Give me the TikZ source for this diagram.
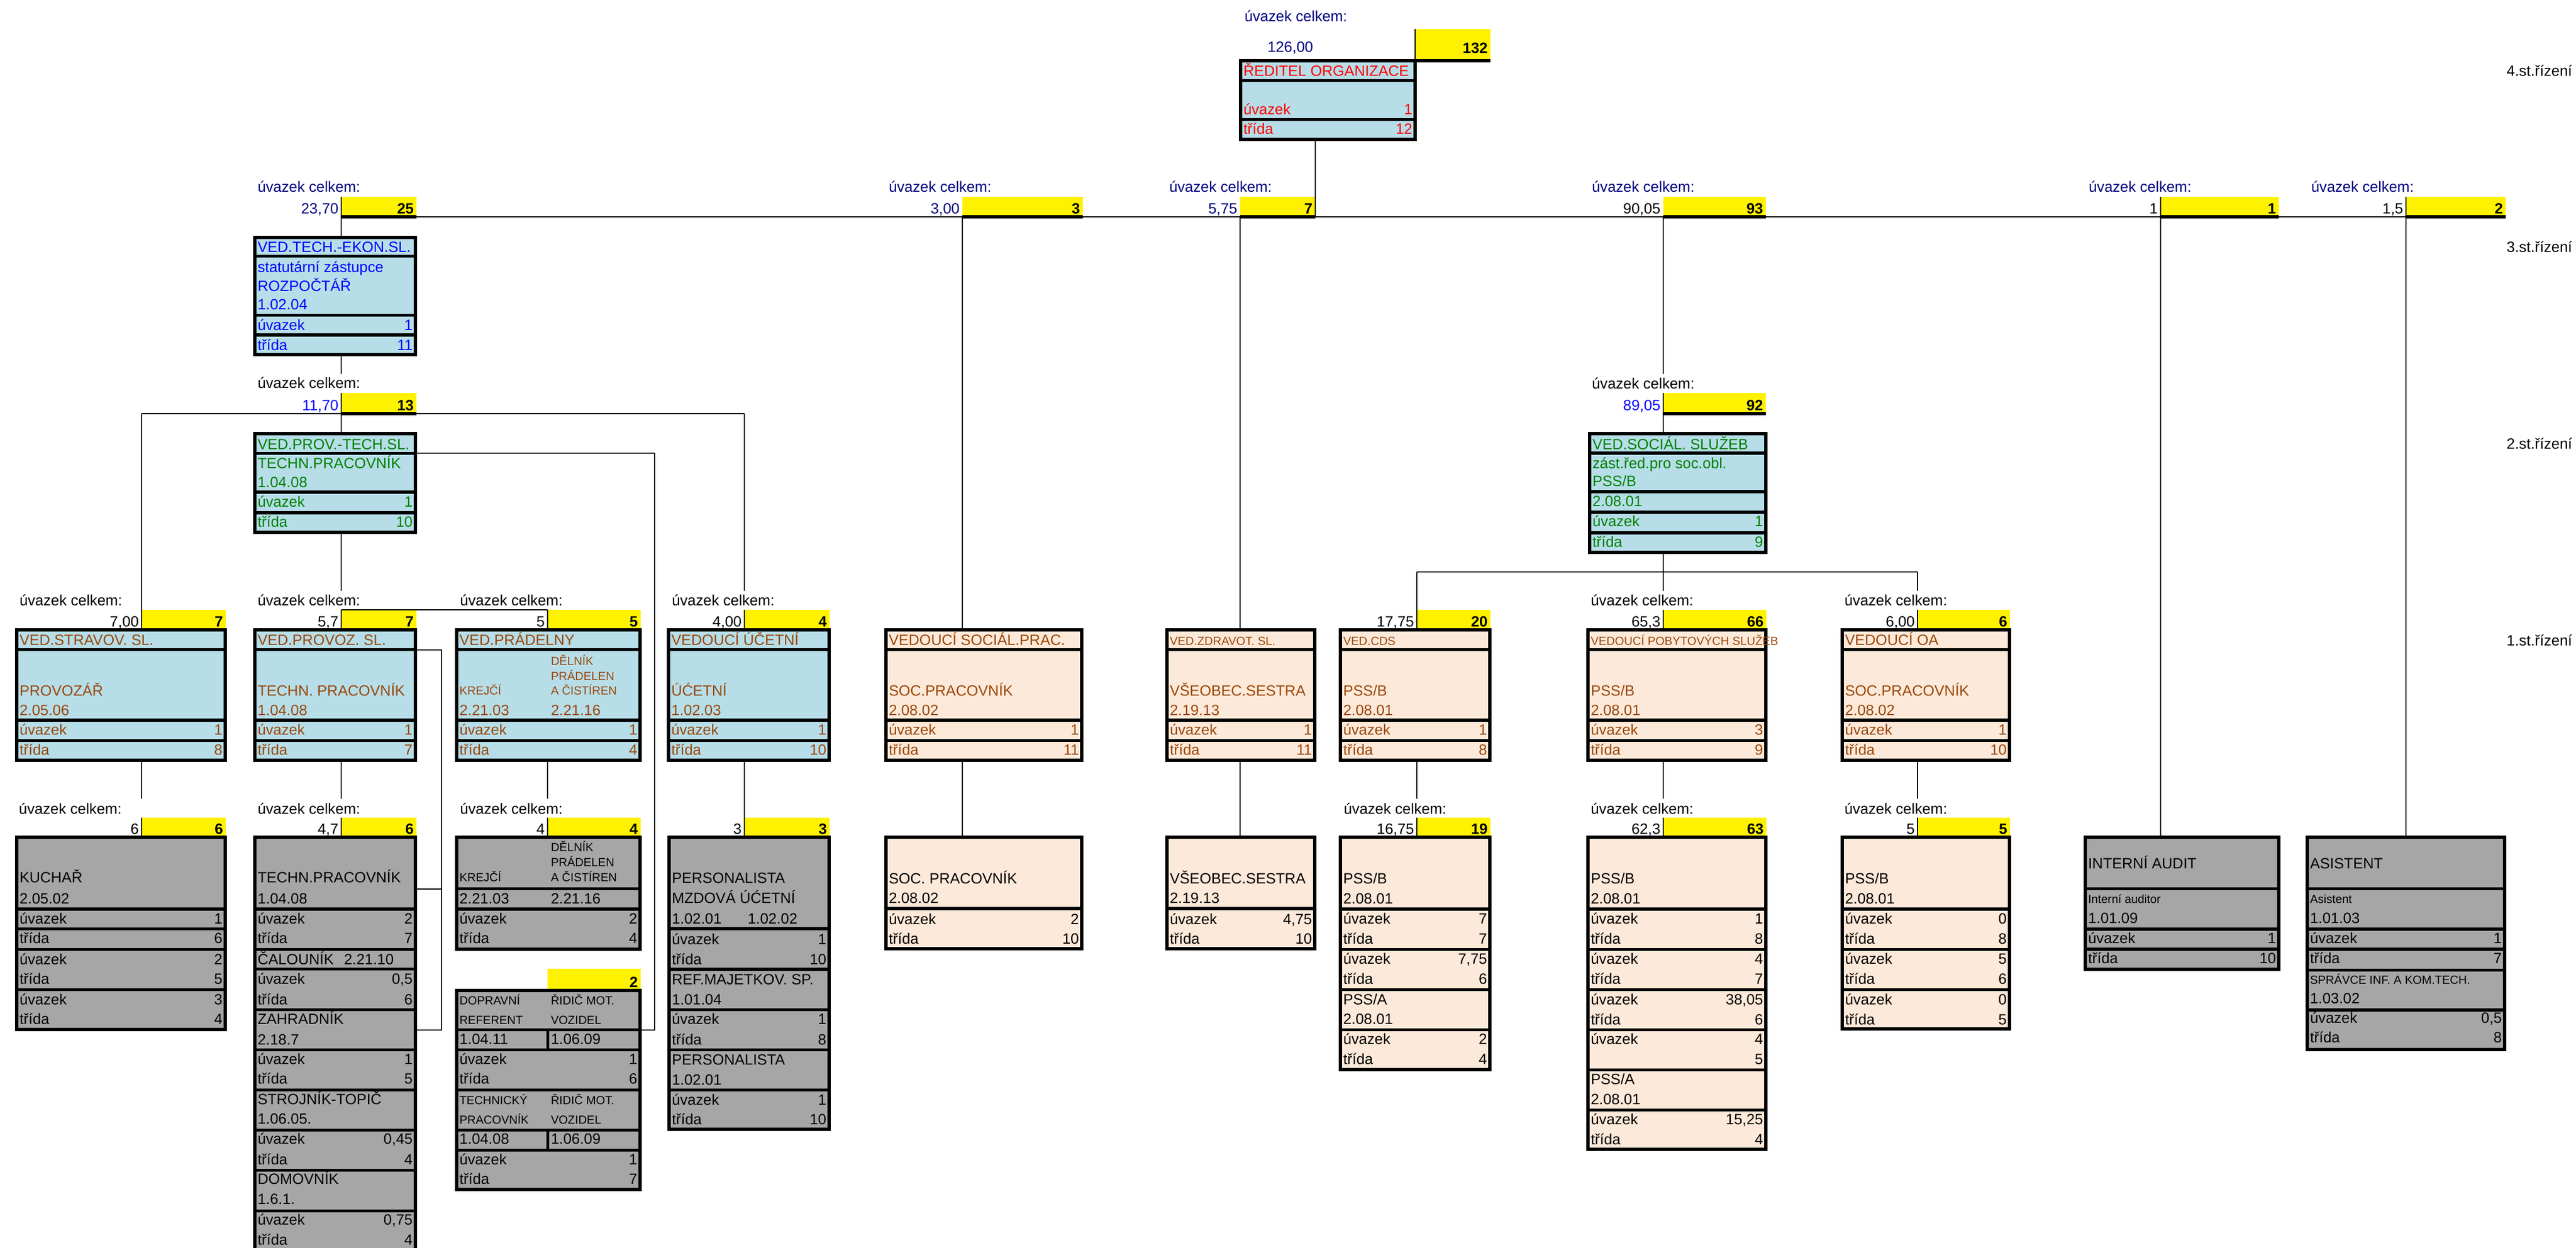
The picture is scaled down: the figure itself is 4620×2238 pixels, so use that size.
\documentclass[tikz,border=0pt]{standalone}
\usepackage{fontspec}
\setmainfont{Liberation Sans}

\definecolor{navy}{RGB}{0,0,128}
\definecolor{boxblue}{RGB}{183,222,232}
\definecolor{peach}{RGB}{253,233,217}
\definecolor{greybox}{RGB}{166,166,166}
\definecolor{txtblue}{RGB}{0,0,255}
\definecolor{txtgreen}{RGB}{0,128,0}
\definecolor{txtbrown}{RGB}{153,72,10}
\definecolor{txtred}{RGB}{255,0,0}

\newcommand{\fnorm}{\fontsize{7.6}{9}\selectfont}
\newcommand{\fsmall}{\fontsize{6}{7}\selectfont}

\newcounter{cellno}

\tikzset{
  every node/.style={inner sep=0pt, outer sep=0pt, font=\fnorm},
  frame/.style={draw, line width=1.5pt},
  sepline/.style={line width=1.5pt},
  conn/.style={line width=0.7pt},
  yel/.style={fill=yellow},
  tc/.style={every node/.append style={text=#1}},
}

% box: name, x1, y1, x2, y2, fill
\newcommand{\OrgBox}[6]{\node[frame, fill=#6, anchor=north west, minimum width={(#4-#2)*0.01cm}, minimum height={(#5-#3)*0.01cm}] (#1) at (#2,#3) {};}
% yellow count cell: [offset] name, x1, y1, x2, y2, number
\newcommand{\YelN}[7][6]{\node[yel, anchor=north west, minimum width={(#5-#3)*0.01cm}, minimum height={(#6-#4)*0.01cm}] (#2) at (#3,#4) {};
  \stepcounter{cellno}\path (#2.south east) ++(-5,-#1) node[anchor=base east, text=black, font=\fnorm\bfseries] (c\arabic{cellno}) {#7};
  \draw[sepline] (#2.south west) -- (#2.south east);}
\newcommand{\Yel}[7][6]{\YelN[#1]{#2}{#3}{#4}{#5}{#6}{#7}\draw[conn] (#2.north west) -- (#2.south west);}
\newcommand{\Val}[3][black]{\stepcounter{cellno}\path (#2.south west) ++(-5,-6) node[anchor=base east, text=#1] (c\arabic{cellno}) {#3};}
\newcommand{\Lab}[3][black]{\stepcounter{cellno}\node[anchor=base west, text=#1] (c\arabic{cellno}) at (#2,#3) {úvazek celkem:};}
% rows inside a box
\newcommand{\Lt}[3]{\stepcounter{cellno}\path (#1.west |- 0,#2) ++(5,0) node[anchor=base west] (c\arabic{cellno}) {#3};}
\newcommand{\Rt}[3]{\stepcounter{cellno}\path (#1.east |- 0,#2) ++(-5,0) node[anchor=base east] (c\arabic{cellno}) {#3};}
\newcommand{\Row}[4]{\Lt{#1}{#2}{#3}\Rt{#1}{#2}{#4}}
\newcommand{\At}[3]{\stepcounter{cellno}\node[anchor=base west] (c\arabic{cellno}) at (#1,#2) {#3};}
\newcommand{\Sep}[2]{\draw[sepline] (#1.west |- 0,#2) -- (#1.east |- 0,#2);}
\newcommand{\LevOne}[6]{\Lt{#1}{1157}{#2}\Sep{#1}{1165.5}\Lt{#1}{1248}{#3}\Lt{#1}{1283}{#4}\Sep{#1}{1292}\Row{#1}{1318}{úvazek}{#5}\Sep{#1}{1328.5}\Row{#1}{1354}{třída}{#6}}

\begin{document}
\begin{tikzpicture}[x=0.01cm, y=-0.01cm]

\useasboundingbox (0,0) rectangle (4620,2238);
\fill[white] (0,0) rectangle (4620,2238);
\clip (0,0) rectangle (4620,2238);

% levels
\node[anchor=base east] (lev4) at (4613,136) {4.st.řízení};
\node[anchor=base east] (lev3) at (4613,452) {3.st.řízení};
\node[anchor=base east] (lev2) at (4613,805) {2.st.řízení};
\node[anchor=base east] (lev1) at (4613,1158) {1.st.řízení};

% director
\Lab[navy]{2232}{38}
\node[anchor=base east, text=navy] (dirval) at (2355,93) {126,00};
\Yel[14]{ydir}{2538}{52}{2673}{109}{132}
\OrgBox{dir}{2225}{109}{2538}{250}{boxblue}
\begin{scope}[tc=txtred]
\Lt{dir}{136}{ŘEDITEL ORGANIZACE}
\Sep{dir}{144.5}
\Row{dir}{205}{úvazek}{1}
\Sep{dir}{214.5}
\Row{dir}{240}{třída}{12}
\end{scope}

% 3.st headers
\Yel{ytech}{612}{353}{747}{389}{25}
\YelN{ysocprac}{1726}{353}{1942}{389}{3}
\YelN{yzdrav}{2224}{353}{2359}{389}{7}
\YelN{ysoc}{2983}{353}{3167}{389}{93}
\Yel{yaudit}{3875}{353}{4087}{389}{1}
\Yel{yasist}{4315}{353}{4494}{389}{2}
\Lab[navy]{462}{344}
\Lab[navy]{1594}{344}
\Lab[navy]{2097}{344}
\Lab[navy]{2855}{344}
\Lab[navy]{3746}{344}
\Lab[navy]{4145}{344}
\Val[navy]{ytech}{23,70}
\Val[navy]{ysocprac}{3,00}
\Val[navy]{yzdrav}{5,75}
\Val{ysoc}{90,05}
\Val{yaudit}{1}
\Val{yasist}{1,5}

% technical-economic branch
\OrgBox{tech}{457}{426}{745}{636}{boxblue}
\begin{scope}[tc=txtblue]
\Lt{tech}{452}{VED.TECH.-EKON.SL.}
\Sep{tech}{459.5}
\Lt{tech}{488}{statutární zástupce}
\Lt{tech}{522}{ROZPOČTÁŘ}
\Lt{tech}{555}{1.02.04}
\Sep{tech}{565.5}
\Row{tech}{592}{úvazek}{1}
\Sep{tech}{601}
\Row{tech}{628}{třída}{11}
\end{scope}
\Lab{462}{696}
\Yel{ytech2}{612}{705}{747}{742}{13}
\Val[txtblue]{ytech2}{11,70}

\OrgBox{prov}{457}{778}{745}{955}{boxblue}
\begin{scope}[tc=txtgreen]
\Lt{prov}{806}{VED.PROV.-TECH.SL.}
\Sep{prov}{813.5}
\Lt{prov}{840}{TECHN.PRACOVNÍK}
\Lt{prov}{874}{1.04.08}
\Sep{prov}{883}
\Row{prov}{909}{úvazek}{1}
\Sep{prov}{920}
\Row{prov}{945}{třída}{10}
\end{scope}

% social branch
\Lab{2855}{697}
\Yel{ysoc2}{2983}{705}{3167}{742}{92}
\Val[txtblue]{ysoc2}{89,05}
\OrgBox{soc}{2851}{778}{3167}{991}{boxblue}
\begin{scope}[tc=txtgreen]
\Lt{soc}{806}{VED.SOCIÁL. SLUŽEB}
\Sep{soc}{813}
\Lt{soc}{840}{zást.řed.pro soc.obl.}
\Lt{soc}{872}{PSS/B}
\Sep{soc}{882}
\Lt{soc}{908}{2.08.01}
\Sep{soc}{919}
\Row{soc}{944}{úvazek}{1}
\Sep{soc}{956}
\Row{soc}{981}{třída}{9}
\end{scope}

% 1.st headers
\Yel{ystrav}{254}{1094}{405}{1130}{7}
\Yel{yprovoz}{612}{1094}{747}{1130}{7}
\Yel{yprad}{982}{1094}{1149}{1130}{5}
\Yel{yucet}{1335}{1094}{1488}{1130}{4}
\Yel{ycds}{2541}{1094}{2673}{1130}{20}
\Yel{ypobyt}{2983}{1094}{3168}{1130}{66}
\Yel{yoa}{3439}{1094}{3605}{1130}{6}
\Lab{35}{1086}
\Lab{462}{1086}
\Lab{825}{1086}
\Lab{1205}{1086}
\Lab{2853}{1086}
\Lab{3308}{1086}
\Val{ystrav}{7,00}
\Val{yprovoz}{5,7}
\Val{yprad}{5}
\Val{yucet}{4,00}
\Val{ycds}{17,75}
\Val{ypobyt}{65,3}
\Val{yoa}{6,00}

% 1.st boxes
\OrgBox{strav}{30}{1130}{404}{1364}{boxblue}
\OrgBox{provoz}{457}{1130}{745}{1364}{boxblue}
\OrgBox{prad}{819}{1130}{1148}{1364}{boxblue}
\OrgBox{ucet}{1199}{1130}{1487}{1364}{boxblue}
\OrgBox{socprac}{1589}{1130}{1940}{1364}{peach}
\OrgBox{zdrav}{2093}{1130}{2358}{1364}{peach}
\OrgBox{cds}{2404}{1130}{2672}{1364}{peach}
\OrgBox{pobyt}{2848}{1130}{3167}{1364}{peach}
\OrgBox{oa}{3304}{1130}{3604}{1364}{peach}
\begin{scope}[tc=txtbrown]
\LevOne{strav}{VED.STRAVOV. SL.}{PROVOZÁŘ}{2.05.06}{1}{8}
\LevOne{provoz}{VED.PROVOZ. SL.}{TECHN. PRACOVNÍK}{1.04.08}{1}{7}
\LevOne{prad}{VED.PRÁDELNY}{}{}{1}{4}
\At{824}{1246}{\fsmall KREJČÍ}
\At{824}{1283}{2.21.03}
\At{988}{1193}{\fsmall DĚLNÍK}
\At{988}{1220}{\fsmall PRÁDELEN}
\At{988}{1246}{\fsmall A ČISTÍREN}
\At{988}{1283}{2.21.16}
\LevOne{ucet}{VEDOUCÍ ÚČETNÍ}{ÚĆETNÍ}{1.02.03}{1}{10}
\LevOne{socprac}{VEDOUCÍ SOCIÁL.PRAC.}{SOC.PRACOVNÍK}{2.08.02}{1}{11}
\LevOne{zdrav}{\fsmall VED.ZDRAVOT. SL.}{VŠEOBEC.SESTRA}{2.19.13}{1}{11}
\LevOne{cds}{\fsmall VED.CDS}{PSS/B}{2.08.01}{1}{8}
\LevOne{pobyt}{\fsmall VEDOUCÍ POBYTOVÝCH SLUŽEB}{PSS/B}{2.08.01}{3}{9}
\LevOne{oa}{VEDOUCÍ OA}{SOC.PRACOVNÍK}{2.08.02}{1}{10}
\end{scope}

% lower headers
\Yel{ykuch}{254}{1467}{405}{1502}{6}
\Yel{ytechn}{612}{1467}{747}{1502}{6}
\Yel{yprad2}{982}{1467}{1149}{1502}{4}
\YelN{ydopr}{982}{1738}{1149}{1777}{2}
\Yel{ypers}{1335}{1467}{1488}{1502}{3}
\Yel{ycds2}{2541}{1467}{2673}{1502}{19}
\Yel{ypobyt2}{2983}{1467}{3168}{1502}{63}
\Yel{yoa2}{3439}{1467}{3605}{1502}{5}
\Lab{34}{1460}
\Lab{462}{1460}
\Lab{825}{1460}
\Lab{2410}{1460}
\Lab{2853}{1460}
\Lab{3308}{1460}
\Val{ykuch}{6}
\Val{ytechn}{4,7}
\Val{yprad2}{4}
\Val{ypers}{3}
\Val{ycds2}{16,75}
\Val{ypobyt2}{62,3}
\Val{yoa2}{5}

% lower boxes
\OrgBox{kuch}{30}{1502}{404}{1847}{greybox}
\OrgBox{techn}{457}{1502}{745}{2270}{greybox}
\OrgBox{prad2}{819}{1502}{1148}{1703}{greybox}
\OrgBox{dopr}{819}{1777}{1148}{2134}{greybox}
\OrgBox{pers}{1200}{1502}{1487}{2026}{greybox}
\OrgBox{socprac2}{1589}{1502}{1940}{1702}{peach}
\OrgBox{zdrav2}{2093}{1502}{2358}{1702}{peach}
\OrgBox{cds2}{2404}{1502}{2672}{1919}{peach}
\OrgBox{pobyt2}{2848}{1502}{3167}{2062}{peach}
\OrgBox{oa2}{3304}{1502}{3604}{1846}{peach}
\OrgBox{audit}{3740}{1502}{4087}{1739}{greybox}
\OrgBox{asist}{4138}{1502}{4492}{1883}{greybox}

\Lt{kuch}{1583}{KUCHAŘ}
\Lt{kuch}{1621}{2.05.02}
\Sep{kuch}{1631}
\Row{kuch}{1657}{úvazek}{1}
\Sep{kuch}{1666.5}
\Row{kuch}{1692}{třída}{6}
\Sep{kuch}{1703.5}
\Row{kuch}{1730}{úvazek}{2}
\Row{kuch}{1765}{třída}{5}
\Sep{kuch}{1775.5}
\Row{kuch}{1802}{úvazek}{3}
\Row{kuch}{1837}{třída}{4}

\Lt{techn}{1583}{TECHN.PRACOVNÍK}
\Lt{techn}{1621}{1.04.08}
\Sep{techn}{1631}
\Row{techn}{1657}{úvazek}{2}
\Row{techn}{1692}{třída}{7}
\Sep{techn}{1703.5}
\Lt{techn}{1730}{ČALOUNÍK}
\At{617}{1730}{2.21.10}
\Sep{techn}{1738.5}
\Row{techn}{1765}{úvazek}{0,5}
\Row{techn}{1802}{třída}{6}
\Sep{techn}{1811.5}
\Lt{techn}{1837}{ZAHRADNÍK}
\Lt{techn}{1874}{2.18.7}
\Sep{techn}{1883.5}
\Row{techn}{1909}{úvazek}{1}
\Row{techn}{1944}{třída}{5}
\Sep{techn}{1955.5}
\Lt{techn}{1981}{STROJNÍK-TOPIČ}
\Lt{techn}{2016}{1.06.05.}
\Sep{techn}{2027.5}
\Row{techn}{2052}{úvazek}{0,45}
\Row{techn}{2089}{třída}{4}
\Sep{techn}{2099.5}
\Lt{techn}{2124}{DOMOVNÍK}
\Lt{techn}{2160}{1.6.1.}
\Sep{techn}{2172.5}
\Row{techn}{2197}{úvazek}{0,75}
\Row{techn}{2233}{třída}{4}

\At{824}{1581}{\fsmall KREJČÍ}
\At{988}{1527}{\fsmall DĚLNÍK}
\At{988}{1554}{\fsmall PRÁDELEN}
\At{988}{1581}{\fsmall A ČISTÍREN}
\Sep{prad2}{1594.5}
\At{824}{1621}{2.21.03}
\At{988}{1621}{2.21.16}
\Sep{prad2}{1631}
\Row{prad2}{1657}{úvazek}{2}
\Row{prad2}{1692}{třída}{4}

\At{824}{1802}{\fsmall DOPRAVNÍ}
\At{988}{1802}{\fsmall ŘIDIČ MOT.}
\At{824}{1837}{\fsmall REFERENT}
\At{988}{1837}{\fsmall VOZIDEL}
\Sep{dopr}{1847.5}
\At{824}{1873}{1.04.11}
\At{988}{1873}{1.06.09}
\draw[sepline] (982.5,1847.5) -- (982.5,1883.5);
\Sep{dopr}{1883.5}
\Row{dopr}{1909}{úvazek}{1}
\Row{dopr}{1944}{třída}{6}
\Sep{dopr}{1955.5}
\At{824}{1981}{\fsmall TECHNICKÝ}
\At{988}{1981}{\fsmall ŘIDIČ MOT.}
\At{824}{2016}{\fsmall PRACOVNÍK}
\At{988}{2016}{\fsmall VOZIDEL}
\Sep{dopr}{2027.5}
\At{824}{2052}{1.04.08}
\At{988}{2052}{1.06.09}
\draw[sepline] (982.5,2027.5) -- (982.5,2063.5);
\Sep{dopr}{2063.5}
\Row{dopr}{2089}{úvazek}{1}
\Row{dopr}{2124}{třída}{7}

\Lt{pers}{1584}{PERSONALISTA}
\Lt{pers}{1620}{MZDOVÁ ÚĆETNÍ}
\Lt{pers}{1657}{1.02.01}
\At{1341}{1657}{1.02.02}
\Sep{pers}{1666}
\Row{pers}{1694}{úvazek}{1}
\Row{pers}{1730}{třída}{10}
\Sep{pers}{1739}
\Lt{pers}{1766}{REF.MAJETKOV. SP.}
\Lt{pers}{1802}{1.01.04}
\Sep{pers}{1811.5}
\Row{pers}{1837}{úvazek}{1}
\Row{pers}{1874}{třída}{8}
\Sep{pers}{1883.5}
\Lt{pers}{1910}{PERSONALISTA}
\Lt{pers}{1946}{1.02.01}
\Sep{pers}{1955.5}
\Row{pers}{1982}{úvazek}{1}
\Row{pers}{2017}{třída}{10}

\Lt{socprac2}{1585}{SOC. PRACOVNÍK}
\Lt{socprac2}{1620}{2.08.02}
\Sep{socprac2}{1630}
\Row{socprac2}{1658}{úvazek}{2}
\Row{socprac2}{1693}{třída}{10}

\Lt{zdrav2}{1585}{VŠEOBEC.SESTRA}
\Lt{zdrav2}{1620}{2.19.13}
\Sep{zdrav2}{1630}
\Row{zdrav2}{1658}{úvazek}{4,75}
\Row{zdrav2}{1693}{třída}{10}

\Lt{cds2}{1585}{PSS/B}
\Lt{cds2}{1621}{2.08.01}
\Sep{cds2}{1631}
\Row{cds2}{1657}{úvazek}{7}
\Row{cds2}{1693}{třída}{7}
\Sep{cds2}{1703.5}
\Row{cds2}{1729}{úvazek}{7,75}
\Row{cds2}{1765}{třída}{6}
\Sep{cds2}{1775.5}
\Lt{cds2}{1802}{PSS/A}
\Lt{cds2}{1837}{2.08.01}
\Sep{cds2}{1847.5}
\Row{cds2}{1873}{úvazek}{2}
\Row{cds2}{1909}{třída}{4}

\Lt{pobyt2}{1585}{PSS/B}
\Lt{pobyt2}{1621}{2.08.01}
\Sep{pobyt2}{1631}
\Row{pobyt2}{1657}{úvazek}{1}
\Row{pobyt2}{1693}{třída}{8}
\Sep{pobyt2}{1703.5}
\Row{pobyt2}{1729}{úvazek}{4}
\Row{pobyt2}{1765}{třída}{7}
\Sep{pobyt2}{1775.5}
\Row{pobyt2}{1802}{úvazek}{38,05}
\Row{pobyt2}{1838}{třída}{6}
\Sep{pobyt2}{1847.5}
\Row{pobyt2}{1873}{úvazek}{4}
\Rt{pobyt2}{1909}{5}
\Sep{pobyt2}{1919.5}
\Lt{pobyt2}{1945}{PSS/A}
\Lt{pobyt2}{1981}{2.08.01}
\Sep{pobyt2}{1991.5}
\Row{pobyt2}{2017}{úvazek}{15,25}
\Row{pobyt2}{2053}{třída}{4}

\Lt{oa2}{1585}{PSS/B}
\Lt{oa2}{1621}{2.08.01}
\Sep{oa2}{1631}
\Row{oa2}{1657}{úvazek}{0}
\Row{oa2}{1693}{třída}{8}
\Sep{oa2}{1703.5}
\Row{oa2}{1729}{úvazek}{5}
\Row{oa2}{1765}{třída}{6}
\Sep{oa2}{1775.5}
\Row{oa2}{1802}{úvazek}{0}
\Row{oa2}{1838}{třída}{5}

\Lt{audit}{1558}{INTERNÍ AUDIT}
\Sep{audit}{1594.5}
\Lt{audit}{1620}{\fsmall Interní auditor}
\Lt{audit}{1656}{1.01.09}
\Sep{audit}{1667}
\Row{audit}{1692}{úvazek}{1}
\Sep{audit}{1703}
\Row{audit}{1728}{třída}{10}

\Lt{asist}{1558}{ASISTENT}
\Sep{asist}{1594.5}
\Lt{asist}{1620}{\fsmall Asistent}
\Lt{asist}{1656}{1.01.03}
\Sep{asist}{1667}
\Row{asist}{1692}{úvazek}{1}
\Sep{asist}{1703}
\Row{asist}{1728}{třída}{7}
\Sep{asist}{1740.5}
\Lt{asist}{1765}{\fsmall SPRÁVCE INF. A KOM.TECH.}
\Lt{asist}{1800}{1.03.02}
\Sep{asist}{1812}
\Row{asist}{1835}{úvazek}{0,5}
\Row{asist}{1870}{třída}{8}

% connectors
\draw[conn] (dir.south -| yzdrav.east) -- (yzdrav.south east);
\draw[conn] (ytech.south east) -- (yasist.south east);
\draw[conn] (ytech.south west) -- (ytech.south west |- tech.north);
\draw[conn] (ysocprac.south west) -- (ysocprac.south west |- socprac.north);
\draw[conn] (yzdrav.south west) -- (yzdrav.south west |- zdrav.north);
\draw[conn] (ysoc.south west) -- (ysoc.west |- 0,671);
\draw[conn] (yaudit.south west) -- (yaudit.south west |- audit.north);
\draw[conn] (yasist.south west) -- (yasist.south west |- asist.north);

\draw[conn] (tech.south -| ytech.west) -- (ytech.west |- 0,671);
\draw[conn] (ytech2.south west) -- (ytech2.south west |- prov.north);
\draw[conn] (ystrav.west |- ytech2.south) -- (yucet.west |- ytech2.south);
\draw[conn] (ystrav.west |- ytech2.south) -- (ystrav.north west);
\draw[conn] (yucet.west |- ytech2.south) -- (yucet.west |- 0,1060);
\draw[conn] (prov.south -| yprovoz.west) -- (yprovoz.west |- 0,1060);
\draw[conn] (yprovoz.north west) -- (yprad.north west);

\coordinate (pt) at (1174,813);
\coordinate (pb) at (1174,1848);
\draw[conn] (prov.east |- pt) -- (pt) -- (pb) -- (dopr.east |- pb);
\coordinate (zt) at (792,1166);
\coordinate (zb) at (792,1848);
\draw[conn] (provoz.east |- zt) -- (zt) -- (zb) -- (techn.east |- zb);
\draw[conn] (techn.east |- 0,1595) -- (zt |- 0,1595);

\draw[conn] (strav.south -| ykuch.west) -- (ykuch.west |- 0,1433);
\draw[conn] (provoz.south -| ytechn.west) -- (ytechn.west |- 0,1433);
\draw[conn] (prad.south -| yprad2.west) -- (yprad2.west |- 0,1433);
\draw[conn] (ucet.south -| ypers.west) -- (ypers.north west);
\draw[conn] (socprac.south -| ysocprac.west) -- (ysocprac.west |- socprac2.north);
\draw[conn] (zdrav.south -| yzdrav.west) -- (yzdrav.west |- zdrav2.north);
\draw[conn] (cds.south -| ycds2.west) -- (ycds2.west |- 0,1433);
\draw[conn] (pobyt.south -| ypobyt2.west) -- (ypobyt2.west |- 0,1433);
\draw[conn] (oa.south -| yoa2.west) -- (yoa2.west |- 0,1433);

\draw[conn] (ysoc2.south west) -- (ysoc2.south west |- soc.north);
\draw[conn] (soc.south -| ypobyt.west) -- (ypobyt.west |- 0,1060);
\draw[conn] (ycds.west |- 0,1026) -- (yoa.west |- 0,1026);
\draw[conn] (ycds.west |- 0,1026) -- (ycds.north west);
\draw[conn] (yoa.west |- 0,1026) -- (yoa.west |- 0,1060);

\end{tikzpicture}
\end{document}
